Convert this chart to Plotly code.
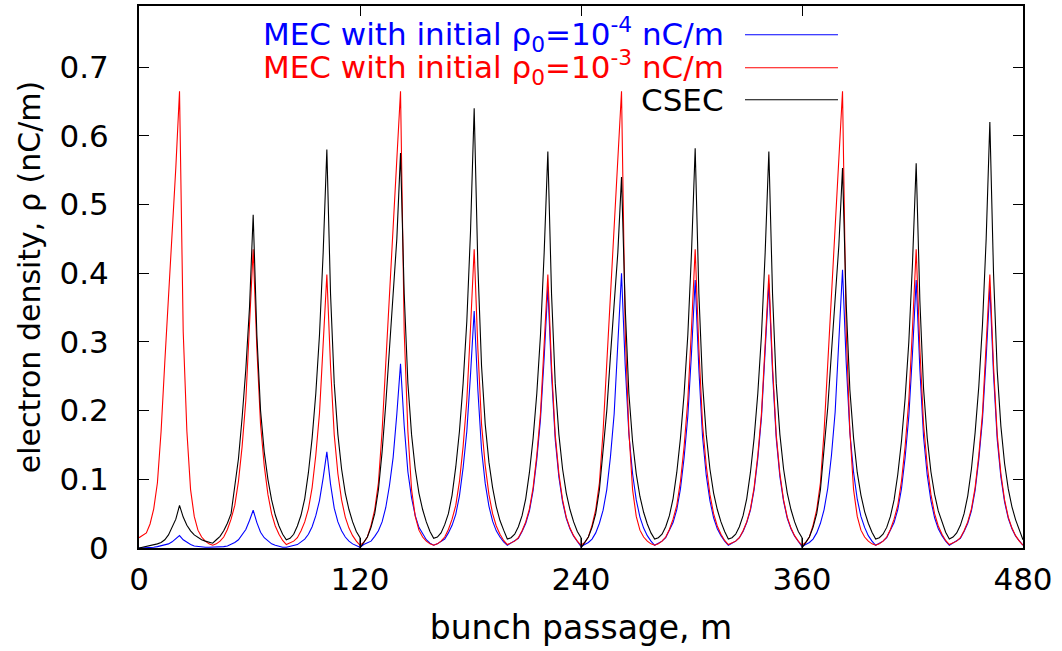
import plotly.graph_objects as go

# ---- data ----
x_mec = list(range(0, 481, 2))  # sampling positions along the bunch passage (m)

red_rho = [
    # 0-38
    0.015, 0.018, 0.022, 0.035, 0.057, 0.095, 0.17, 0.27, 0.36, 0.465,
    0.554, 0.665, 0.315, 0.17, 0.085, 0.046, 0.026, 0.016, 0.01, 0.006,
    # 40-78
    0.004, 0.006, 0.01, 0.016, 0.027, 0.042, 0.062, 0.097, 0.148, 0.215,
    0.32, 0.435, 0.29, 0.18, 0.12, 0.078, 0.05, 0.032, 0.02, 0.011,
    # 80-118
    0.005, 0.007, 0.01, 0.015, 0.025, 0.038, 0.057, 0.088, 0.135, 0.196,
    0.29, 0.398, 0.265, 0.165, 0.108, 0.07, 0.045, 0.029, 0.018, 0.01,
    # 120-158
    0.004, 0.008, 0.016, 0.033, 0.056, 0.095, 0.17, 0.27, 0.36, 0.465,
    0.554, 0.665, 0.315, 0.17, 0.085, 0.046, 0.026, 0.016, 0.01, 0.006,
    # 160-198
    0.004, 0.006, 0.01, 0.016, 0.027, 0.042, 0.062, 0.097, 0.148, 0.215,
    0.32, 0.435, 0.29, 0.18, 0.12, 0.078, 0.05, 0.032, 0.02, 0.011,
    # 200-238
    0.005, 0.007, 0.01, 0.015, 0.025, 0.038, 0.057, 0.088, 0.135, 0.196,
    0.29, 0.398, 0.265, 0.165, 0.108, 0.07, 0.045, 0.029, 0.018, 0.01,
    # 240-278
    0.004, 0.008, 0.016, 0.033, 0.056, 0.095, 0.17, 0.27, 0.36, 0.465,
    0.554, 0.665, 0.315, 0.17, 0.085, 0.046, 0.026, 0.016, 0.01, 0.006,
    # 280-318
    0.004, 0.006, 0.01, 0.016, 0.027, 0.042, 0.062, 0.097, 0.148, 0.215,
    0.32, 0.435, 0.29, 0.18, 0.12, 0.078, 0.05, 0.032, 0.02, 0.011,
    # 320-358
    0.005, 0.007, 0.01, 0.015, 0.025, 0.038, 0.057, 0.088, 0.135, 0.196,
    0.29, 0.398, 0.265, 0.165, 0.108, 0.07, 0.045, 0.029, 0.018, 0.01,
    # 360-398
    0.004, 0.008, 0.016, 0.033, 0.056, 0.095, 0.17, 0.27, 0.36, 0.465,
    0.554, 0.665, 0.315, 0.17, 0.085, 0.046, 0.026, 0.016, 0.01, 0.006,
    # 400-438
    0.004, 0.006, 0.01, 0.016, 0.027, 0.042, 0.062, 0.097, 0.148, 0.215,
    0.32, 0.435, 0.29, 0.18, 0.12, 0.078, 0.05, 0.032, 0.02, 0.011,
    # 440-478
    0.005, 0.007, 0.01, 0.015, 0.025, 0.038, 0.057, 0.088, 0.135, 0.196,
    0.29, 0.398, 0.265, 0.165, 0.108, 0.07, 0.045, 0.029, 0.018, 0.01,
    # 480
    0.004,
]

blue_rho = [
    # 0-38
    0.0, 0.0, 0.001, 0.001, 0.001, 0.002, 0.003, 0.004, 0.006, 0.009,
    0.013, 0.018, 0.012, 0.008, 0.005, 0.003, 0.002, 0.001, 0.001, 0.001,
    # 40-78
    0.001, 0.001, 0.001, 0.002, 0.003, 0.005, 0.008, 0.012, 0.019, 0.027,
    0.04, 0.055, 0.037, 0.023, 0.015, 0.01, 0.006, 0.004, 0.002, 0.001,
    # 80-118
    0.001, 0.002, 0.003, 0.005, 0.009, 0.013, 0.02, 0.031, 0.047, 0.069,
    0.102, 0.14, 0.093, 0.058, 0.038, 0.025, 0.016, 0.01, 0.006, 0.003,
    # 120-158
    0.001, 0.005, 0.007, 0.01, 0.017, 0.025, 0.038, 0.059, 0.091, 0.132,
    0.195, 0.268, 0.178, 0.111, 0.073, 0.047, 0.03, 0.02, 0.012, 0.007,
    # 160-198
    0.004, 0.006, 0.009, 0.013, 0.022, 0.033, 0.049, 0.076, 0.117, 0.17,
    0.252, 0.345, 0.23, 0.143, 0.094, 0.061, 0.039, 0.025, 0.016, 0.009,
    # 200-238
    0.004, 0.007, 0.01, 0.014, 0.024, 0.036, 0.054, 0.084, 0.129, 0.187,
    0.277, 0.38, 0.253, 0.158, 0.103, 0.067, 0.043, 0.028, 0.017, 0.01,
    # 240-278
    0.002, 0.005, 0.008, 0.013, 0.022, 0.036, 0.055, 0.085, 0.133, 0.195,
    0.29, 0.4, 0.266, 0.166, 0.108, 0.07, 0.045, 0.029, 0.018, 0.01,
    # 280-318
    0.004, 0.007, 0.01, 0.015, 0.025, 0.037, 0.056, 0.086, 0.132, 0.192,
    0.284, 0.39, 0.26, 0.162, 0.106, 0.069, 0.044, 0.028, 0.018, 0.01,
    # 320-358
    0.004, 0.007, 0.01, 0.015, 0.024, 0.037, 0.055, 0.085, 0.13, 0.19,
    0.28, 0.385, 0.256, 0.16, 0.104, 0.068, 0.043, 0.028, 0.017, 0.01,
    # 360-398
    0.002, 0.005, 0.008, 0.013, 0.022, 0.036, 0.056, 0.087, 0.135, 0.198,
    0.295, 0.405, 0.27, 0.168, 0.11, 0.071, 0.046, 0.03, 0.018, 0.01,
    # 400-438
    0.004, 0.007, 0.01, 0.015, 0.025, 0.037, 0.056, 0.086, 0.132, 0.192,
    0.284, 0.39, 0.26, 0.162, 0.106, 0.069, 0.044, 0.028, 0.018, 0.01,
    # 440-478
    0.004, 0.007, 0.01, 0.014, 0.024, 0.036, 0.054, 0.084, 0.129, 0.187,
    0.277, 0.38, 0.253, 0.158, 0.103, 0.067, 0.043, 0.028, 0.017, 0.01,
    # 480
    0.004,
]

# CSEC is computed in four 120 m runs; each run restarts, so x repeats at 120, 240, 360
x_csec = (list(range(0, 121, 2)) + list(range(120, 241, 2))
          + list(range(240, 361, 2)) + list(range(360, 481, 2)))

black_rho = [
    # run 1: 0-120
    0.0, 0.001, 0.002, 0.003, 0.004, 0.006, 0.008, 0.012, 0.019, 0.03,
    0.042, 0.062, 0.045, 0.033, 0.025, 0.019, 0.015, 0.012, 0.01, 0.008,
    0.007, 0.012, 0.017, 0.025, 0.036, 0.05, 0.09, 0.13, 0.19, 0.26,
    0.35, 0.485, 0.31, 0.2, 0.14, 0.1, 0.07, 0.048, 0.032, 0.02,
    0.012, 0.014, 0.02, 0.032, 0.048, 0.072, 0.11, 0.16, 0.225, 0.31,
    0.43, 0.58, 0.37, 0.24, 0.165, 0.115, 0.08, 0.056, 0.038, 0.024,
    0.015,
    # run 2: 120-240
    0.0, 0.008, 0.016, 0.03, 0.05, 0.085, 0.14, 0.21, 0.29, 0.37,
    0.45, 0.575, 0.37, 0.24, 0.165, 0.115, 0.08, 0.056, 0.038, 0.024,
    0.014, 0.016, 0.022, 0.034, 0.05, 0.077, 0.118, 0.17, 0.24, 0.33,
    0.46, 0.64, 0.41, 0.265, 0.18, 0.125, 0.088, 0.06, 0.04, 0.026,
    0.013, 0.015, 0.02, 0.031, 0.047, 0.072, 0.11, 0.16, 0.225, 0.31,
    0.43, 0.577, 0.37, 0.24, 0.165, 0.115, 0.08, 0.056, 0.038, 0.024,
    0.015,
    # run 3: 240-360
    0.0, 0.008, 0.016, 0.03, 0.05, 0.085, 0.14, 0.2, 0.28, 0.35,
    0.43, 0.54, 0.35, 0.225, 0.155, 0.108, 0.075, 0.052, 0.035, 0.022,
    0.013, 0.015, 0.02, 0.031, 0.047, 0.072, 0.11, 0.16, 0.225, 0.31,
    0.43, 0.582, 0.37, 0.24, 0.165, 0.115, 0.08, 0.056, 0.038, 0.024,
    0.013, 0.015, 0.02, 0.031, 0.047, 0.072, 0.11, 0.16, 0.225, 0.31,
    0.43, 0.577, 0.37, 0.24, 0.165, 0.115, 0.08, 0.056, 0.038, 0.024,
    0.015,
    # run 4: 360-480
    0.0, 0.008, 0.016, 0.03, 0.05, 0.085, 0.14, 0.205, 0.285, 0.36,
    0.44, 0.553, 0.355, 0.23, 0.16, 0.11, 0.077, 0.053, 0.036, 0.023,
    0.013, 0.015, 0.02, 0.03, 0.046, 0.07, 0.107, 0.155, 0.218, 0.3,
    0.415, 0.56, 0.36, 0.232, 0.16, 0.111, 0.078, 0.054, 0.037, 0.023,
    0.013, 0.016, 0.022, 0.033, 0.05, 0.076, 0.115, 0.168, 0.235, 0.325,
    0.45, 0.62, 0.4, 0.258, 0.177, 0.123, 0.086, 0.06, 0.041, 0.026,
    0.012,
]

x_ticks = [0, 120, 240, 360, 480]
y_ticks = [0, 0.1, 0.2, 0.3, 0.4, 0.5, 0.6, 0.7]
y_tick_text = ["0", "0.1", "0.2", "0.3", "0.4", "0.5", "0.6", "0.7"]

series_names = [
    "MEC with initial ρ<sub>0</sub>=10<sup>-4</sup> nC/m",
    "MEC with initial ρ<sub>0</sub>=10<sup>-3</sup> nC/m",
    "CSEC",
]
series_colors = ["#0000ff", "#ff0000", "#000000"]

# ---- figure ----
FONT = "DejaVu Sans, Liberation Sans, Arial, sans-serif"
fig = go.Figure()
fig.add_trace(go.Scatter(x=x_mec, y=blue_rho, mode="lines",
                         line=dict(color=series_colors[0], width=1.1), name=series_names[0]))
fig.add_trace(go.Scatter(x=x_mec, y=red_rho, mode="lines",
                         line=dict(color=series_colors[1], width=1.1), name=series_names[1]))
fig.add_trace(go.Scatter(x=x_csec, y=black_rho, mode="lines",
                         line=dict(color=series_colors[2], width=1.1), name=series_names[2]))

axis_common = dict(
    showgrid=False, zeroline=False, showline=True, linecolor="black", linewidth=2,
    mirror="ticks", ticks="inside", ticklen=10, tickwidth=1.2, tickcolor="black",
    tickfont=dict(family=FONT, size=31, color="black"),
)
fig.update_xaxes(range=[0, 480], tickvals=x_ticks, ticktext=[str(v) for v in x_ticks],
                 ticklabelstandoff=3,
                 title=dict(text="bunch passage, m", font=dict(family=FONT, size=33), standoff=20),
                 **axis_common)
fig.update_yaxes(range=[0, 0.789], tickvals=y_ticks, ticktext=y_tick_text,
                 ticklabelstandoff=22,
                 title=dict(text="electron density, ρ (nC/m)", font=dict(family=FONT, size=30), standoff=10),
                 **axis_common)

# manual legend, gnuplot style: right-aligned coloured text with a line sample to its right
leg_rows_y = [0.947, 0.886, 0.827]
for name, col, yy in zip(series_names, series_colors, leg_rows_y):
    fig.add_annotation(xref="paper", yref="paper", x=0.664, y=yy, xanchor="right", yanchor="middle",
                       text=name, showarrow=False, font=dict(family=FONT, size=31, color=col))
    fig.add_shape(type="line", xref="paper", yref="paper", x0=0.6855, x1=0.7907, y0=yy, y1=yy,
                  line=dict(color=col, width=1.1))

fig.update_layout(
    width=1062, height=651,
    margin=dict(l=139, r=39, t=4, b=103),
    plot_bgcolor="white", paper_bgcolor="white",
    showlegend=False,
    font=dict(family=FONT, color="black"),
)

fig.write_html("out.html")
